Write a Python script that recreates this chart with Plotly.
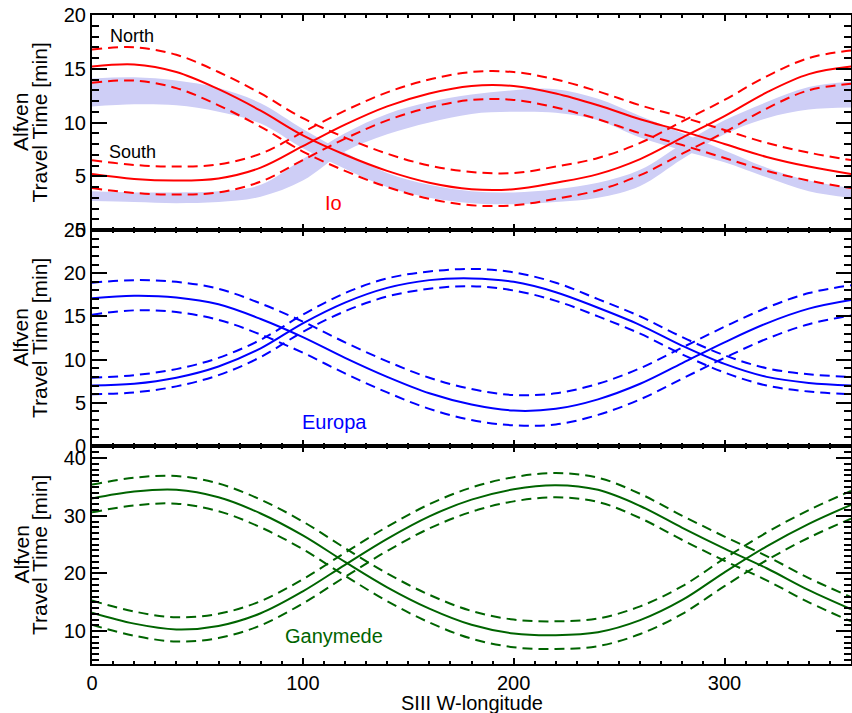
import plotly.graph_objects as go

# ---------------- data ----------------
lon = [0, 20, 40, 60, 80, 100, 120, 140, 160, 180, 200, 220, 240, 260, 280, 300, 320, 340, 360]

# Io
io_north = [15.2, 15.4, 14.7, 13.1, 11.1, 8.8, 7.0, 5.5, 4.4, 3.8, 3.8, 4.4, 5.2, 6.6, 8.6, 10.6, 12.8, 14.5, 15.2]
io_north_hi = [16.8, 17.0, 16.3, 14.7, 12.7, 10.4, 8.6, 7.1, 6.0, 5.4, 5.3, 5.9, 6.7, 8.1, 10.1, 12.1, 14.3, 16.0, 16.7]
io_north_lo = [13.7, 13.9, 13.2, 11.6, 9.6, 7.3, 5.5, 4.0, 2.9, 2.3, 2.3, 2.9, 3.7, 5.1, 7.1, 9.1, 11.3, 13.0, 13.6]
io_south = [5.2, 4.75, 4.6, 4.8, 5.8, 7.8, 9.8, 11.5, 12.7, 13.4, 13.4, 12.7, 11.6, 10.3, 9.2, 8.0, 6.8, 5.9, 5.2]
io_south_hi = [6.5, 6.05, 5.9, 6.1, 7.1, 9.1, 11.1, 12.8, 14.0, 14.7, 14.7, 14.0, 12.9, 11.6, 10.5, 9.3, 8.1, 7.2, 6.5]
io_south_lo = [3.9, 3.45, 3.3, 3.5, 4.5, 6.5, 8.5, 10.2, 11.4, 12.1, 12.1, 11.4, 10.3, 9.0, 7.9, 6.7, 5.5, 4.6, 3.9]
# observed (shaded) bands at Io
io_obsA_hi = [14.1, 14.2, 13.9, 13.2, 11.8, 9.4, 7.2, 5.3, 4.2, 3.6, 3.5, 3.8, 4.4, 5.6, 8.0, 10.2, 11.9, 13.3, 13.8]
io_obsA_lo = [11.5, 11.7, 11.6, 11.0, 9.9, 7.6, 5.7, 4.0, 3.0, 2.5, 2.4, 2.6, 3.0, 4.1, 6.6, 8.9, 10.4, 11.2, 11.4]
io_obsB_hi = [3.6, 3.5, 3.5, 3.6, 4.2, 6.6, 9.0, 10.8, 11.9, 12.6, 13.0, 13.1, 12.2, 10.6, 9.0, 7.4, 5.8, 4.6, 3.9]
io_obsB_lo = [2.7, 2.6, 2.5, 2.6, 3.1, 4.6, 7.3, 8.9, 10.0, 10.8, 11.0, 10.9, 10.2, 8.6, 7.4, 6.3, 4.9, 3.6, 3.0]

# Europa
eu_north = [17.1, 17.4, 17.2, 16.4, 14.7, 12.6, 10.2, 8.0, 6.1, 4.8, 4.1, 4.3, 5.4, 7.2, 9.6, 12.0, 14.2, 15.9, 16.9]
eu_north_hi = [18.9, 19.2, 19.0, 18.2, 16.5, 14.4, 12.0, 9.8, 7.9, 6.6, 5.9, 6.1, 7.2, 9.0, 11.4, 13.8, 16.0, 17.7, 18.6]
eu_north_lo = [15.2, 15.7, 15.5, 14.6, 12.9, 10.8, 8.4, 6.2, 4.3, 3.0, 2.4, 2.5, 3.6, 5.4, 7.8, 10.2, 12.4, 14.1, 15.1]
eu_south = [7.0, 7.2, 7.9, 9.2, 11.3, 14.2, 16.6, 18.3, 19.2, 19.4, 19.0, 17.8, 16.0, 14.0, 11.6, 9.5, 8.0, 7.3, 7.0]
eu_south_hi = [7.9, 8.2, 8.9, 10.2, 12.3, 15.2, 17.7, 19.4, 20.2, 20.5, 20.1, 18.9, 17.0, 15.0, 12.6, 10.5, 9.0, 8.3, 8.0]
eu_south_lo = [6.0, 6.2, 6.9, 8.2, 10.3, 13.2, 15.6, 17.3, 18.2, 18.5, 18.0, 16.8, 15.0, 13.0, 10.6, 8.5, 7.0, 6.3, 6.0]

# Ganymede
ga_north = [33.0, 34.2, 34.5, 33.2, 30.4, 26.6, 22.0, 17.6, 13.9, 11.1, 9.6, 9.3, 9.8, 11.9, 15.4, 20.2, 24.7, 28.6, 31.9]
ga_north_hi = [35.4, 36.6, 36.9, 35.6, 32.8, 29.0, 24.4, 20.0, 16.3, 13.5, 12.0, 11.7, 12.2, 14.3, 17.8, 22.6, 27.1, 31.0, 34.3]
ga_north_lo = [30.6, 31.8, 32.1, 30.8, 28.0, 24.2, 19.6, 15.2, 11.5, 8.7, 7.2, 6.9, 7.4, 9.5, 13.0, 17.8, 22.3, 26.2, 29.5]
ga_south = [13.2, 11.3, 10.3, 10.9, 13.1, 16.9, 21.5, 26.0, 29.9, 32.8, 34.6, 35.3, 34.5, 31.7, 27.9, 24.3, 20.9, 17.1, 13.8]
ga_south_hi = [15.3, 13.4, 12.4, 13.0, 15.2, 19.0, 23.6, 28.1, 32.0, 34.9, 36.7, 37.4, 36.6, 33.8, 30.0, 26.4, 23.0, 19.2, 15.9]
ga_south_lo = [11.1, 9.2, 8.2, 8.8, 11.0, 14.8, 19.4, 23.9, 27.8, 30.7, 32.5, 33.2, 32.4, 29.6, 25.8, 22.2, 18.8, 15.0, 11.7]

x_ticks = [0, 100, 200, 300]
io_yticks = [0, 5, 10, 15, 20]
eu_yticks = [0, 5, 10, 15, 20, 25]
ga_yticks = [10, 20, 30, 40]

RED = "#ff0000"
BLUE = "#0000ff"
GREEN = "#006400"
BAND = "rgb(206,206,246)"
FONT = "Liberation Sans, Arial, Helvetica, sans-serif"

fig = go.Figure()


def band(lo, hi, ax):
    xa, ya = ax
    fig.add_trace(go.Scatter(x=lon, y=lo, mode="lines", line=dict(width=0, shape="spline", color=BAND),
                             xaxis=xa, yaxis=ya, showlegend=False, hoverinfo="skip"))
    fig.add_trace(go.Scatter(x=lon, y=hi, mode="lines", line=dict(width=0, shape="spline", color=BAND),
                             fill="tonexty", fillcolor=BAND, xaxis=xa, yaxis=ya, showlegend=False,
                             hoverinfo="skip"))


def triple(mid, hi, lo, color, ax):
    xa, ya = ax
    for arr, dash in ((hi, "10px,6px"), (lo, "10px,6px"), (mid, "solid")):
        fig.add_trace(go.Scatter(x=lon, y=arr, mode="lines",
                                 line=dict(color=color, width=2, dash=dash, shape="spline", smoothing=1.0),
                                 xaxis=xa, yaxis=ya, showlegend=False))


band(io_obsA_lo, io_obsA_hi, ("x", "y"))
band(io_obsB_lo, io_obsB_hi, ("x", "y"))
triple(io_north, io_north_hi, io_north_lo, RED, ("x", "y"))
triple(io_south, io_south_hi, io_south_lo, RED, ("x", "y"))
triple(eu_north, eu_north_hi, eu_north_lo, BLUE, ("x2", "y2"))
triple(eu_south, eu_south_hi, eu_south_lo, BLUE, ("x2", "y2"))
triple(ga_north, ga_north_hi, ga_north_lo, GREEN, ("x3", "y3"))
triple(ga_south, ga_south_hi, ga_south_lo, GREEN, ("x3", "y3"))

xcommon = dict(range=[0, 360], tickvals=x_ticks, ticks="inside", ticklen=6, tickwidth=2, tickcolor="black",
               minor=dict(dtick=10, tick0=0, ticks="inside", ticklen=3, tickwidth=1.5, tickcolor="black"),
               showline=True, linewidth=2, linecolor="black", mirror="allticks", showgrid=False,
               zeroline=False, automargin=False, tickfont=dict(family=FONT, size=20, color="black"))
ycommon = dict(ticks="inside", ticklen=15, tickwidth=2, tickcolor="black",
               minor=dict(dtick=1, ticks="inside", ticklen=7, tickwidth=1.5, tickcolor="black"),
               showline=True, linewidth=2, linecolor="black", mirror="allticks", showgrid=False,
               zeroline=False, automargin=False, tickfont=dict(family=FONT, size=20, color="black"))

d_io = [0.6687, 1.0]
d_eu = [0.3359, 0.6687]
d_ga = [0.0, 0.3359]

fig.update_layout(
    width=852, height=713,
    margin=dict(l=92, r=1, t=15, b=49, autoexpand=False),
    plot_bgcolor="white", paper_bgcolor="white",
    xaxis=dict(xcommon, domain=[0, 1], anchor="y", showticklabels=False),
    xaxis2=dict(xcommon, domain=[0, 1], anchor="y2", showticklabels=False, matches="x"),
    xaxis3=dict(xcommon, domain=[0, 1], anchor="y3", showticklabels=True, matches="x"),
    yaxis=dict(ycommon, domain=d_io, anchor="x", range=[0, 20], tickvals=io_yticks),
    yaxis2=dict(ycommon, domain=d_eu, anchor="x2", range=[0, 25], tickvals=eu_yticks),
    yaxis3=dict(ycommon, domain=d_ga, anchor="x3", range=[4.3, 42.1], tickvals=ga_yticks),
)

ann = []
for d in (d_io, d_eu, d_ga):
    yc = (d[0] + d[1]) / 2
    ann.append(dict(text="Alfven", xref="paper", yref="paper", x=-0.0942, y=yc, textangle=-90,
                    showarrow=False, xanchor="center", yanchor="middle",
                    font=dict(family=FONT, size=21, color="black")))
    ann.append(dict(text="Travel Time [min]", xref="paper", yref="paper", x=-0.0698, y=yc, textangle=-90,
                    showarrow=False, xanchor="center", yanchor="middle",
                    font=dict(family=FONT, size=21, color="black")))
ann.append(dict(text="SIII W-longitude", xref="paper", yref="paper", x=0.5, y=-0.060, showarrow=False,
                xanchor="center", yanchor="middle", font=dict(family=FONT, size=20, color="black")))
ann.append(dict(text="North", xref="x", yref="y", x=19, y=18.05, showarrow=False,
                font=dict(family=FONT, size=18, color="black")))
ann.append(dict(text="South", xref="x", yref="y", x=19.4, y=7.25, showarrow=False,
                font=dict(family=FONT, size=18, color="black")))
ann.append(dict(text="Io", xref="x", yref="y", x=114.7, y=2.5, showarrow=False,
                font=dict(family=FONT, size=20, color=RED)))
ann.append(dict(text="Europa", xref="x2", yref="y2", x=115, y=2.8, showarrow=False,
                font=dict(family=FONT, size=20, color=BLUE)))
ann.append(dict(text="Ganymede", xref="x3", yref="y3", x=114.7, y=9.1, showarrow=False,
                font=dict(family=FONT, size=20, color=GREEN)))
fig.update_layout(annotations=ann)

fig.write_html("out.html", config={"displayModeBar": False},
               post_script="document.body.style.margin='0px';document.body.style.overflow='hidden';")
